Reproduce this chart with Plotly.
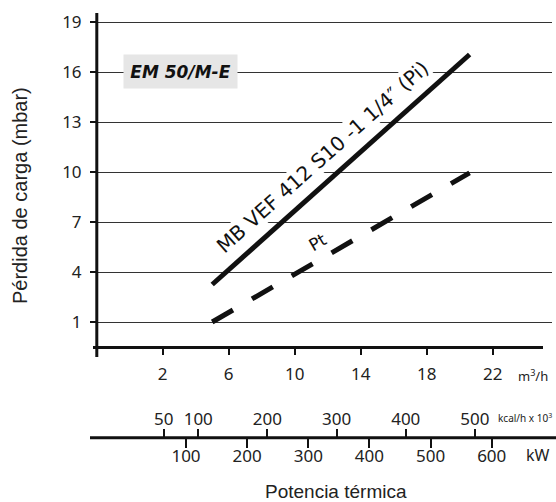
import plotly.graph_objects as go

# ---- data ----
flow_pi = [5.0, 20.6]          # m3/h
dp_pi = [3.25, 17.05]          # mbar
flow_pt = [5.0, 20.6]
dp_pt = [1.0, 9.95]

y_ticks = [1, 4, 7, 10, 13, 16, 19]
x_ticks = [2, 6, 10, 14, 18, 22]
kcal_ticks = [50, 100, 200, 300, 400, 500]
kw_ticks = [100, 200, 300, 400, 500, 600]

label_pi = "MB VEF 412 S10 -1 1/4″ (Pi)"
label_pt = "Pt"
label_box = "<b><i>EM 50/M-E</i></b>"

# ---- geometry helpers (pixels -> paper) ----
W, H = 556, 502
L, R, T, B = 97, 4, 13, 0
PW, PH = W - L - R, H - T - B
def px(x):
    return (x - L) / PW
def py(y):
    return (H - B - y) / PH

TICKFONT = dict(family="Noto Sans", size=17, color="#222")

fig = go.Figure()
fig.add_trace(go.Scatter(x=flow_pi, y=dp_pi, mode="lines",
                         line=dict(color="#111", width=5),
                         showlegend=False, hoverinfo="skip"))
fig.add_trace(go.Scatter(x=flow_pt, y=dp_pt, mode="lines",
                         line=dict(color="#111", width=5, dash="24px,22px"),
                         showlegend=False, hoverinfo="skip"))
# helper traces to activate the secondary x axes
fig.add_trace(go.Scatter(x=[kcal_ticks[0]], y=[None], xaxis="x2", yaxis="y",
                         showlegend=False, hoverinfo="skip"))
fig.add_trace(go.Scatter(x=[kw_ticks[0]], y=[None], xaxis="x3", yaxis="y",
                         showlegend=False, hoverinfo="skip"))

fig.update_layout(
    width=W, height=H,
    margin=dict(l=L, r=R, t=T, b=B),
    paper_bgcolor="white", plot_bgcolor="white",
    xaxis=dict(range=[-1.982, 25.594], tickvals=x_ticks, ticks="outside",
               ticklen=7, tickwidth=1.8, tickcolor="#111", showgrid=False,
               zeroline=False, showline=False, tickfont=TICKFONT,
               ticklabelstandoff=5),
    yaxis=dict(domain=[py(347), 1], range=[-0.5, 19.54], tickvals=y_ticks,
               ticks="outside", ticklen=6, tickwidth=1.5, tickcolor="#111",
               showgrid=True, gridcolor="#333", gridwidth=1.3,
               zeroline=False, showline=False, tickfont=TICKFONT,
               ticklabelstandoff=5),
    xaxis2=dict(overlaying="x", anchor="free", position=py(437.7), side="top",
                range=[-46.4, 611.4], tickvals=kcal_ticks, ticks="outside",
                ticklen=9, tickwidth=1.8, tickcolor="#111", showgrid=False,
                zeroline=False, showline=False, tickfont=TICKFONT,
                ticklabelstandoff=-3),
    xaxis3=dict(overlaying="x", anchor="free", position=py(437.7), side="bottom",
                range=[-45.6, 698.6], tickvals=kw_ticks, ticks="outside",
                ticklen=9, tickwidth=1.8, tickcolor="#111", showgrid=False,
                zeroline=False, showline=False, tickfont=TICKFONT,
                ticklabelstandoff=-6),
)

# axis lines
fig.add_shape(type="line", xref="paper", yref="paper",
              x0=px(96.8), x1=px(96.8), y0=py(357), y1=py(13),
              line=dict(color="#111", width=3))
fig.add_shape(type="line", xref="paper", yref="paper",
              x0=px(93), x1=px(543), y0=py(347.5), y1=py(347.5),
              line=dict(color="#111", width=3))
fig.add_shape(type="line", xref="paper", yref="paper",
              x0=px(90), x1=px(556), y0=py(437.7), y1=py(437.7),
              line=dict(color="#111", width=3))

C = dict(xanchor="center", yanchor="middle", showarrow=False)

# curve labels
fig.add_annotation(x=11.7, y=10.88, xref="x", yref="y", text=label_pi,
                   textangle=-41.8, bgcolor="white", borderpad=0,
                   font=dict(family="DejaVu Sans", size=20, color="#111"), **C)
fig.add_annotation(x=11.41, y=5.8, xref="x", yref="y", text=label_pt,
                   textangle=-30,
                   font=dict(family="DejaVu Sans", size=17, color="#111"), **C)
fig.add_annotation(x=3.08, y=16.03, xref="x", yref="y", text=label_box,
                   bgcolor="#e6e6e6", width=107, height=27, borderpad=3,
                   font=dict(family="DejaVu Sans", size=17, color="#111"), **C)

# units
fig.add_annotation(x=px(533), y=py(375), xref="paper", yref="paper",
                   text="m<sup>3</sup>/h",
                   font=dict(family="Noto Sans", size=13, color="#222"), **C)
fig.add_annotation(x=px(525), y=py(418), xref="paper", yref="paper",
                   text="kcal/h x 10<sup>3</sup>",
                   font=dict(family="Liberation Sans Narrow, Noto Sans", size=10, color="#222"), **C)
fig.add_annotation(x=px(538), y=py(455), xref="paper", yref="paper",
                   text="kW",
                   font=dict(family="Noto Sans", size=16, color="#222"), **C)

# titles
fig.add_annotation(x=px(20), y=py(196), xref="paper", yref="paper",
                   text="Pérdida de carga (mbar)", textangle=-90,
                   font=dict(family="Liberation Sans", size=20, color="#222"), **C)
fig.add_annotation(x=px(336), y=py(491), xref="paper", yref="paper",
                   text="Potencia térmica",
                   font=dict(family="Liberation Sans", size=19, color="#222"), **C)

fig.write_html("out.html")
